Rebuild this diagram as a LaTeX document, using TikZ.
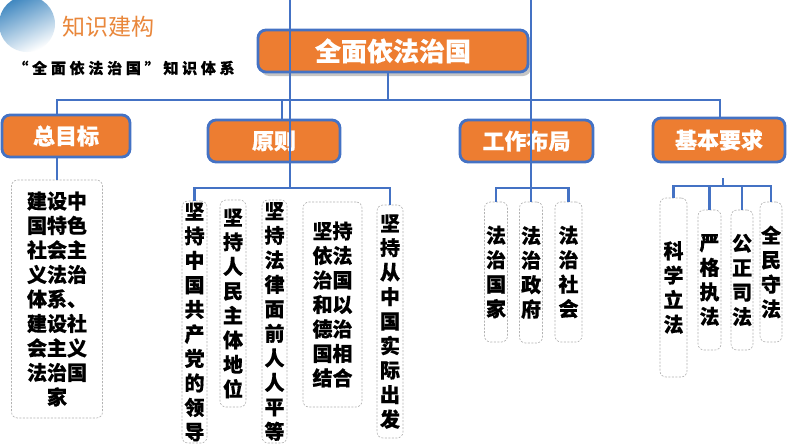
\documentclass[tikz,border=0pt]{standalone}
\usepackage{fontspec}
\usepackage{xcolor}
\usepackage{tikz}
\usetikzlibrary{shapes,positioning,shadows,calc}
\newfontfamily\cjk[BoldFeatures={FakeBold=0.5}]{Noto Sans CJK SC}
\newfontfamily\cjksp[LetterSpace=25, BoldFeatures={FakeBold=0.5}]{Noto Sans CJK SC}
\definecolor{kbOrange}{HTML}{ED7D31}
\definecolor{kbBlue}{HTML}{4472C4}
\definecolor{kbTitle}{HTML}{E9873B}
\definecolor{kbCircle}{HTML}{3F87C0}
\tikzset{
  link/.style={kbBlue, line width=2.8pt},
  catbox/.style={draw=kbBlue, fill=kbOrange, line width=2.8pt, rounded corners=8pt, text=white,
    font=\cjk\bfseries\fontsize{22}{26}\selectfont, minimum height=42pt, inner sep=0pt},
  txtbox/.style={draw=gray!60, dash pattern=on 2pt off 1.5pt, line width=0.6pt, rounded corners=6pt, fill=white,
    font=\cjk\bfseries\fontsize{20}{24.5}\selectfont, align=center, inner sep=0pt},
}
\begin{document}
\begin{tikzpicture}[x=1pt, y=-1pt]
  \useasboundingbox[fill=white] (0,0) rectangle (794,447);

  % Header
  \shade[top color=kbCircle, bottom color=white, shading angle=25] (27,24) circle (28);
  \node[kbTitle, font=\cjk\fontsize{23}{26}\selectfont] (title) at (108,27) {知识建构};
  \node[font=\cjksp\bfseries\fontsize{15}{18}\selectfont] (subtitle) at (124,68) {“全面依法治国”知识体系};

  % Root
  \node[catbox, minimum width=270pt, font=\cjk\bfseries\fontsize{26}{30}\selectfont,
    drop shadow={shadow xshift=3pt, shadow yshift=-4pt, opacity=0.45}] (root) at (393,51) {全面依法治国};

  % Categories
  \node[catbox, minimum width=128pt] (goal) at (66,136) {总目标};
  \node[catbox, minimum width=132pt] (principle) at (274,141) {原则};
  \node[catbox, minimum width=133pt] (layout) at (526.5,141) {工作布局};
  \node[catbox, minimum width=132pt, minimum height=44pt] (req) at (719,140) {基本要求};

  % Text boxes
  \node[txtbox, minimum width=91pt, minimum height=238pt] (goalTxt) at (57,299) {建设中\\国特色\\社会主\\义法治\\体系、\\建设社\\会主义\\法治国\\家};
  \node[txtbox, minimum width=25pt, minimum height=242pt] (p1) at (194.5,322) {坚\\持\\中\\国\\共\\产\\党\\的\\领\\导};
  \node[txtbox, minimum width=26pt, minimum height=207pt] (p2) at (233,303.5) {坚\\持\\人\\民\\主\\体\\地\\位};
  \node[txtbox, minimum width=25pt, minimum height=243pt] (p3) at (274.5,321.5) {坚\\持\\法\\律\\面\\前\\人\\人\\平\\等};
  \node[txtbox, minimum width=59pt, minimum height=205pt] (p4) at (332.5,304.5) {坚持\\依法\\治国\\和以\\德治\\国相\\结合};
  \node[txtbox, minimum width=26pt, minimum height=233pt] (p5) at (390,321.5) {坚\\持\\从\\中\\国\\实\\际\\出\\发};
  \node[txtbox, minimum width=23pt, minimum height=140pt] (l1) at (496,272) {法\\治\\国\\家};
  \node[txtbox, minimum width=23pt, minimum height=141pt] (l2) at (531,272.5) {法\\治\\政\\府};
  \node[txtbox, minimum width=27pt, minimum height=140pt] (l3) at (568.5,272) {法\\治\\社\\会};
  \node[txtbox, minimum width=27pt, minimum height=179pt] (r1) at (673.5,287.5) {科\\学\\立\\法};
  \node[txtbox, minimum width=23pt, minimum height=140pt] (r2) at (709.5,280) {严\\格\\执\\法};
  \node[txtbox, minimum width=22pt, minimum height=140pt] (r3) at (742,280) {公\\正\\司\\法};
  \node[txtbox, minimum width=22pt, minimum height=140pt] (r4) at (771,272) {全\\民\\守\\法};

  % Main bar
  \coordinate (barL) at (57,100);
  \coordinate (barR) at (720,100);
  \draw[link] (goal.north -| barL) -- (barL) -- (barR) -- (req.north -| barR);
  \draw[link] ([xshift=-5pt]root.south) -- ([xshift=-5pt]root.south |- barL);
  \coordinate (pTop) at (282,100);
  \draw[link] (pTop) -- (pTop |- principle.north);

  % Goal
  \draw[link] (goal.south -| goalTxt.north) -- (goalTxt.north);

  % Principle bracket
  \coordinate (pj) at (290,188);
  \draw[link] (p1.north) |- (pj) -| (p5.north);

  % Layout bracket
  \coordinate (lj) at (531,188);
  \draw[link] (l1.north) |- (lj) -| (l3.north);

  % Requirement bracket
  \coordinate (rs) at (723,178);
  \coordinate (rj) at (723,186);
  \draw[link] (rs) -- (rj);
  \draw[link] (r1.north) |- (rj) -| (r4.north);
  \draw[link] (r2.north) -- (r2.north |- rj);
  \draw[link] (r3.north) -- (r3.north |- rj);

  % Long lines from the top
  \coordinate (topA) at (290,0);
  \coordinate (topB) at (531,0);
  \draw[link, line width=2.4pt] (topA) -- (pj);
  \draw[link, line width=2.4pt] (topB) -- (l2.north);
\end{tikzpicture}
\end{document}
